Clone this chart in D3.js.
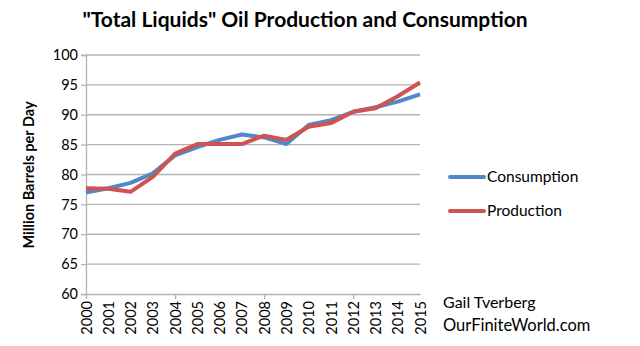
<!DOCTYPE html>
<html><head><meta charset="utf-8">
<script src="https://cdn.jsdelivr.net/npm/d3@7"></script>
<style>body{margin:0;background:#fff}svg{display:block}text{font-family:Lato,"Open Sans",sans-serif;fill:#000}</style>
</head><body><svg id="c" width="640" height="346"></svg>
<script>
const years = [2000,2001,2002,2003,2004,2005,2006,2007,2008,2009,2010,2011,2012,2013,2014,2015];
const consumption = [77.0,77.7,78.6,80.2,83.2,84.6,85.8,86.7,86.2,85.1,88.3,89.1,90.5,91.25,92.2,93.4];
const production  = [77.7,77.6,77.1,79.6,83.5,85.1,85.1,85.1,86.5,85.8,88.0,88.6,90.5,91.1,93.1,95.4];
const yTicks = [60,65,70,75,80,85,90,95,100];
const seriesNames = ["Consumption","Production"];
const colors = ["#5288CB","#CF5450"];

const svg = d3.select("#c");
const x = d3.scaleLinear().domain([2000,2015]).range([86,420]);
const y = d3.scaleLinear().domain([60,100]).range([294,55]);

// title
svg.append("text").attr("x",305).attr("y",27).attr("text-anchor","middle")
  .style("font-size","21px").style("font-weight","bold")
  .text('"Total Liquids" Oil Production and Consumption');

// grid
svg.append("g").selectAll("line").data(yTicks.filter(d=>d>60)).join("line")
  .attr("x1",86).attr("x2",420).attr("y1",d=>y(d)).attr("y2",d=>y(d))
  .attr("stroke","#b3b3b3").attr("stroke-width",1.3);

// y axis
const ya = svg.append("g").attr("transform","translate(86,0)")
  .call(d3.axisLeft(y).tickValues(yTicks).tickSize(5).tickPadding(3));
ya.select(".domain").attr("stroke","#b3b3b3").attr("stroke-width",1.3);
ya.selectAll(".tick line").attr("stroke","#b3b3b3").attr("stroke-width",1.3);
ya.selectAll("text").style("font-size","14.5px").style("font-family","Lato,'Open Sans',sans-serif");

// x axis
const xa = svg.append("g").attr("transform","translate(0,294)")
  .call(d3.axisBottom(x).tickValues(years).tickFormat(d3.format("d")).tickSize(0));
xa.select(".domain").attr("stroke","#b3b3b3").attr("stroke-width",1.3);
xa.selectAll(".tick").filter(d=>(d-2000)%4===0).append("line")
  .attr("y1",0).attr("y2",5).attr("stroke","#b3b3b3").attr("stroke-width",1.3);
xa.selectAll("text").style("font-size","14.5px").style("font-family","Lato,'Open Sans',sans-serif")
  .attr("transform","rotate(-90)").attr("text-anchor","end").attr("x",-7).attr("y",0).attr("dy","0.35em");

// y label
svg.append("text").attr("transform","translate(34,175) rotate(-90)").attr("text-anchor","middle")
  .style("font-size","14.5px").style("font-weight","bold").text("Million Barrels per Day");

// lines
const line = d3.line().x((d,i)=>x(years[i])).y(d=>y(d));
[consumption,production].forEach((s,k)=>{
  svg.append("path").datum(s).attr("d",line).attr("fill","none")
    .attr("stroke",colors[k]).attr("stroke-width",4).attr("stroke-linejoin","round");
});

// legend
seriesNames.forEach((n,k)=>{
  const ly = 177 + k*34;
  svg.append("line").attr("x1",450).attr("x2",484).attr("y1",ly).attr("y2",ly)
    .attr("stroke",colors[k]).attr("stroke-width",4).attr("stroke-linecap","round");
  svg.append("text").attr("x",487).attr("y",ly+5).style("font-size","15.5px").text(n);
});

svg.append("text").attr("x",443).attr("y",308).style("font-size","16px").text("Gail Tverberg");
svg.append("text").attr("x",443).attr("y",331).style("font-size","16.5px").text("OurFiniteWorld.com");
</script></body></html>
